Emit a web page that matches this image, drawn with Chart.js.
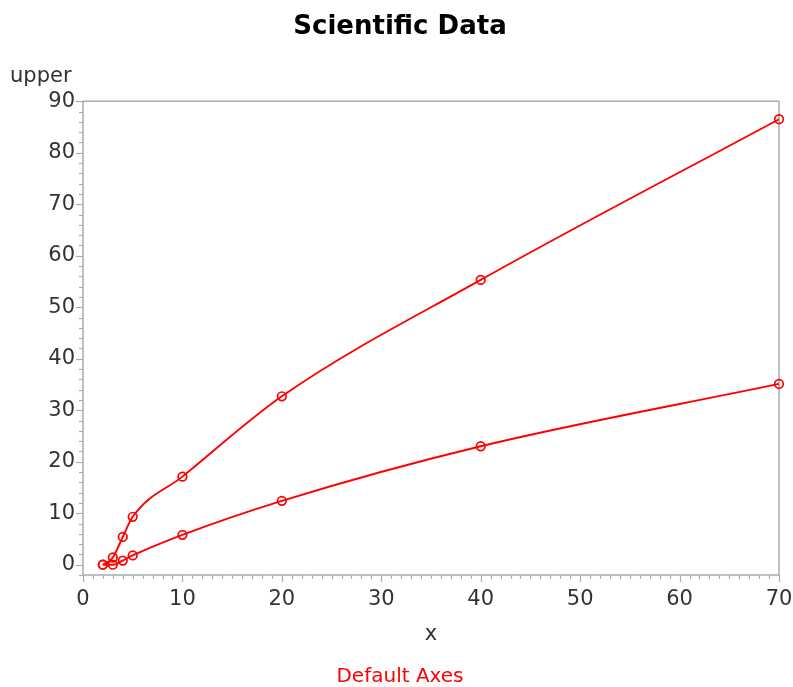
<!DOCTYPE html>
<html>
<head>
<meta charset="utf-8">
<title>Scientific Data</title>
<script src="https://cdn.jsdelivr.net/npm/chart.js@4/dist/chart.umd.min.js"></script>
<style>
  html, body { margin: 0; padding: 0; background: #fff; }
  canvas { display: block; }
</style>
</head>
<body>
<canvas id="grafico" width="793" height="687"></canvas>
<script>
// Dados
const valoresX = [2, 3, 4, 5, 10, 20, 40, 70];
const serieSuperior = [0, 1.4, 5.4, 9.3, 17.1, 32.7, 55.3, 86.5];
const serieInferior = [0, 0, 0.8, 1.8, 5.8, 12.4, 23.0, 35.1];
const ticksX = [0, 10, 20, 30, 40, 50, 60, 70];
const ticksY = [0, 10, 20, 30, 40, 50, 60, 70, 80, 90];

const fonte = '"DejaVu Sans", "Liberation Sans", sans-serif';
const corEixo = '#a7adb1';
const corTexto = '#333';
const vermelho = '#ff0000';

const pontos = ys => valoresX.map((x, i) => ({ x, y: ys[i] }));

function serie(ys) {
  return {
    data: pontos(ys),
    showLine: true,
    borderColor: vermelho,
    borderWidth: 1.9,
    cubicInterpolationMode: 'monotone',
    pointStyle: 'circle',
    pointRadius: 4.3,
    pointBorderWidth: 1.7,
    pointBorderColor: vermelho,
    pointBackgroundColor: 'rgba(0,0,0,0)',
    clip: false
  };
}

// Moldura, marcas dos eixos e rótulo "upper"
const molduraPlugin = {
  id: 'moldura',
  beforeDatasetsDraw(chart) {
    const { ctx, chartArea: a, scales: { x, y } } = chart;
    ctx.save();
    ctx.strokeStyle = corEixo;
    ctx.lineWidth = 1.5;
    ctx.strokeRect(a.left, a.top, a.right - a.left, a.bottom - a.top);

    ctx.lineWidth = 1.2;
    for (let v = x.min; v <= x.max; v += 1) {
      const px = Math.round(x.getPixelForValue(v)) + 0.5;
      const len = v % 10 === 0 ? 7 : 4;
      ctx.beginPath();
      ctx.moveTo(px, a.bottom);
      ctx.lineTo(px, a.bottom + len);
      ctx.stroke();
    }
    for (let v = y.min; v <= y.max; v += 2) {
      const py = Math.round(y.getPixelForValue(v)) + 0.5;
      const len = v % 10 === 0 ? 7 : 4;
      ctx.beginPath();
      ctx.moveTo(a.left, py);
      ctx.lineTo(a.left - len, py);
      ctx.stroke();
    }

    ctx.fillStyle = corTexto;
    ctx.font = '21px ' + fonte;
    ctx.textAlign = 'left';
    ctx.textBaseline = 'middle';
    ctx.fillText('upper', 10, 77);
    ctx.restore();
  }
};

new Chart(document.getElementById('grafico'), {
  type: 'scatter',
  data: { datasets: [serie(serieSuperior), serie(serieInferior)] },
  options: {
    responsive: false,
    animation: false,
    layout: { padding: { top: 0, left: 21, right: 14, bottom: 0 } },
    plugins: {
      legend: { display: false },
      tooltip: { enabled: false },
      title: {
        display: true,
        text: 'Scientific Data',
        color: '#000',
        font: { family: fonte, size: 26, weight: 'bold' },
        padding: { top: 12, bottom: 58 }
      },
      subtitle: {
        display: true,
        position: 'bottom',
        text: 'Default Axes',
        color: vermelho,
        font: { family: fonte, size: 20, lineHeight: 1 },
        padding: 0
      }
    },
    scales: {
      x: {
        type: 'linear',
        min: 0,
        max: 70,
        grid: { display: false, drawTicks: false },
        border: { display: false },
        afterBuildTicks: s => { s.ticks = ticksX.map(v => ({ value: v })); },
        afterFit: s => { s.height = 92; s.paddingLeft = 0; s.paddingRight = 0; },
        ticks: { color: corTexto, font: { family: fonte, size: 21 }, padding: 12, maxRotation: 0 },
        title: {
          display: true,
          text: 'x',
          color: corTexto,
          font: { family: fonte, size: 21 },
          padding: { top: 0, bottom: 20 }
        }
      },
      y: {
        type: 'linear',
        min: -2,
        max: 90,
        grid: { display: false, drawTicks: false },
        border: { display: false },
        afterBuildTicks: s => { s.ticks = ticksY.map(v => ({ value: v })); },
        afterFit: s => { s.width = 62; s.paddingTop = 0; s.paddingBottom = 0; },
        ticks: { color: corTexto, font: { family: fonte, size: 21 }, padding: 8 }
      }
    }
  },
  plugins: [molduraPlugin]
});
</script>
</body>
</html>
